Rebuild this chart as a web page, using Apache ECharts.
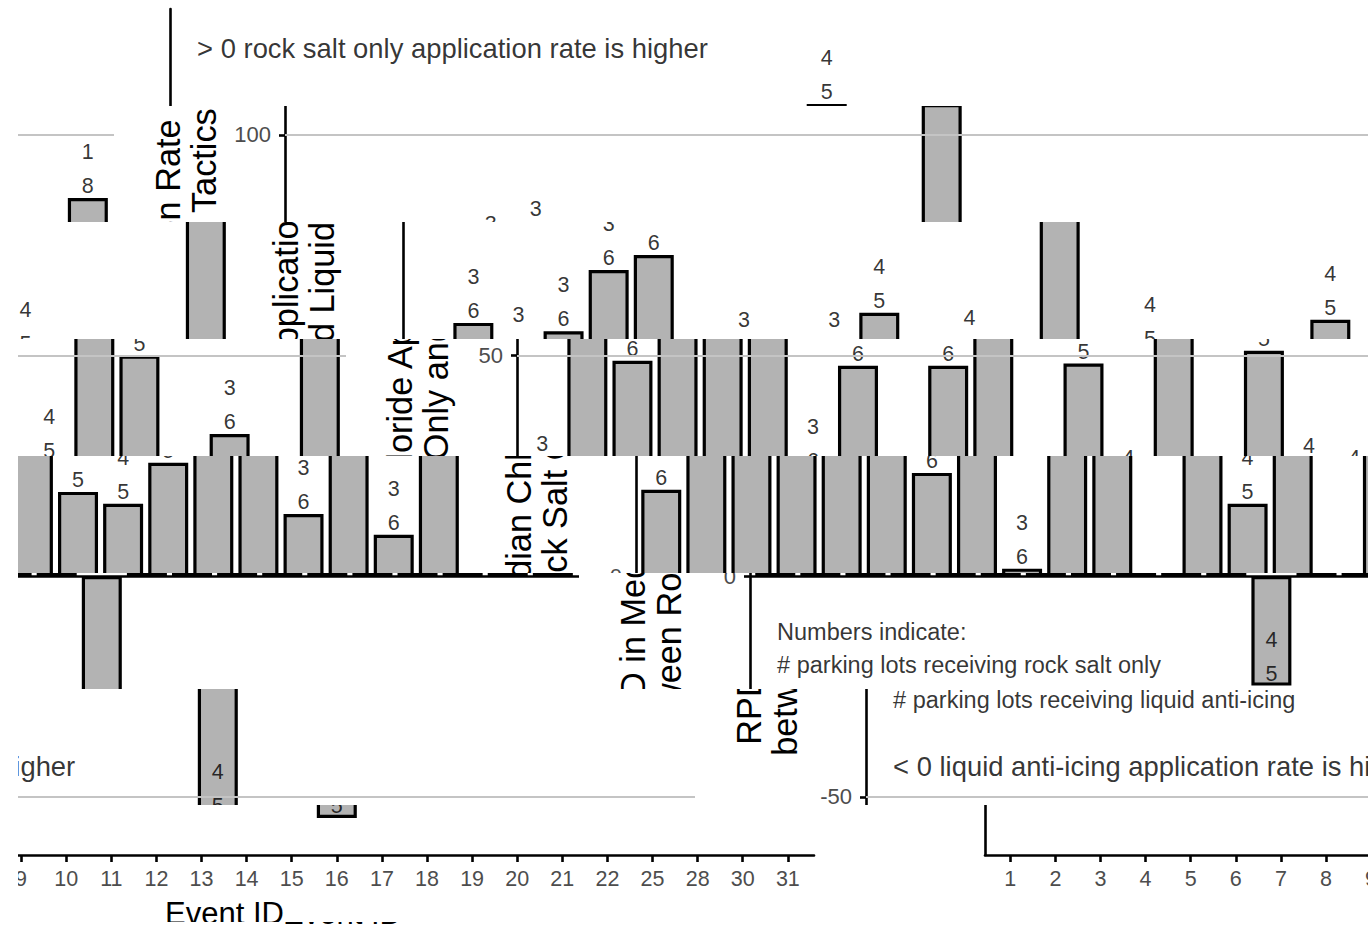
<!DOCTYPE html>
<html>
<head>
<meta charset="utf-8">
<script src="https://cdn.jsdelivr.net/npm/echarts@6/dist/echarts.min.js"></script>
<style>
html,body{margin:0;padding:0;background:#ffffff;width:1371px;height:937px;overflow:hidden;position:relative}
.win{position:absolute;overflow:hidden}
.inner{position:absolute;width:1350px;height:937px}
</style>
</head>
<body>
<script>
// ---------------- data ----------------
const events = ['1','2','3','4','5','6','7','8','9','10','11','12','13','14','15','16','17','18','19','20','21','22','25','28','30','31'];
const rpd = [19.6,57.4,48.8,55.5,69.4,72.8,23.4,47.7,1.7,47.7,59.7,-24.8,48.2,16.4,107.0,-54.8,51.1,19.1,16.4,25.7,58.1,50.0,14.1,32.2,9.4,85.7];
const rockSaltLots = [3,3,3,3,3,3,3,3,3,3,4,4,4,4,4,4,4,4,4,4,4,4,3,3,3,1];
const liquidLots   = [6,6,6,6,6,6,6,6,6,6,5,5,5,5,5,5,5,5,5,5,5,5,6,6,6,8];
const yTicks = [-50, 0, 50, 100];
const gridValues = [-50, 50, 100];
const yTitle = ['RPD in Median Chloride Application Rate', 'between Rock Salt Only and Liquid Tactics'];
const xTitle = 'Event ID';
const annX = [1.04, 1.04, 1.04, 1.04, 1.04];
const annY = [119.7, -12.6, -20.1, -28.0, -43.2];
const annText = [
  '> 0 rock salt only application rate is higher',
  'Numbers indicate:',
  '# parking lots receiving rock salt only',
  '# parking lots receiving liquid anti-icing',
  '< 0 liquid anti-icing application rate is higher'
];
const annSize = [27.4, 23.5, 23.5, 23.5, 27.4];

// ---------------- chart ----------------
const FONT = 'Liberation Sans, Arial, sans-serif';
const pos = events.map((e, i) => i + 1);
const pts = pos.map((p, i) => [p, rpd[i]]);

const option = {
  animation: false,
  backgroundColor: '#ffffff',
  textStyle: { fontFamily: FONT },
  grid: { left: 152, right: 19, top: 9, bottom: 82, containLabel: false },
  xAxis: {
    type: 'value', min: 0.44, max: 26.58,
    splitLine: { show: false },
    axisLine: { show: true, onZero: false, lineStyle: { color: '#000', width: 2.6 } },
    axisTick: { show: true, length: 7, customValues: pos, lineStyle: { color: '#000', width: 2.6 } },
    axisLabel: { customValues: pos, formatter: v => events[Math.round(v) - 1], color: '#4d4d4d', fontSize: 21.5, margin: 13, fontFamily: FONT },
    name: xTitle, nameLocation: 'middle', nameGap: 43,
    nameTextStyle: { fontSize: 31, color: '#000', fontFamily: FONT }
  },
  yAxis: {
    type: 'value', min: -63.2, max: 128.55,
    splitLine: { show: false },
    axisLine: { show: true, onZero: false, lineStyle: { color: '#000', width: 2.6 } },
    axisTick: { show: true, length: 6, customValues: yTicks, lineStyle: { color: '#000', width: 2.6 } },
    axisLabel: { customValues: yTicks, color: '#4d4d4d', fontSize: 22, margin: 14, fontFamily: FONT },
    name: yTitle.join('\n'), nameLocation: 'middle', nameRotate: 90, nameGap: 63,
    nameTextStyle: { fontSize: 34.3, lineHeight: 36, color: '#000', fontFamily: FONT }
  },
  series: [
    {
      type: 'line', data: pts, symbol: 'none', silent: true, z: 1,
      lineStyle: { width: 0, opacity: 0 },
      markLine: {
        silent: true, symbol: ['none', 'none'], label: { show: false },
        lineStyle: { color: '#c4c4c4', width: 1.8, type: 'solid' },
        emphasis: { disabled: true },
        data: gridValues.map(v => ({ yAxis: v }))
      }
    },
    {
      type: 'bar', data: pts, barWidth: 40, z: 2, silent: true,
      itemStyle: { color: '#b3b3b3', borderColor: '#000', borderWidth: 3.2 }
    },
    {
      type: 'line', data: pts, symbol: 'none', silent: true, z: 3,
      lineStyle: { width: 0, opacity: 0 },
      markLine: {
        silent: true, symbol: ['none', 'none'], label: { show: false },
        lineStyle: { color: '#000', width: 2.6, type: 'solid' },
        emphasis: { disabled: true },
        data: [{ yAxis: 0 }]
      }
    },
    {
      type: 'scatter', data: pts, symbolSize: 0, silent: true, z: 4,
      label: {
        show: true, position: 'top', distance: 0, offset: [0, 5],
        formatter: p => rockSaltLots[p.dataIndex] + '\n' + liquidLots[p.dataIndex],
        fontSize: 21.5, lineHeight: 34, color: '#000', fontFamily: FONT
      }
    },
    {
      type: 'scatter', symbolSize: 0, silent: true, z: 5,
      data: annX.map((x, i) => ({
        value: [x, annY[i]],
        label: { show: true, position: 'right', distance: 0, formatter: annText[i], fontSize: annSize[i], color: '#000', fontFamily: FONT }
      }))
    }
  ]
};

// ---------------- sheared band layout of the reference ----------------
const W = 1350, H = 937, X0 = 18;
const bandTop   = [0, 106, 222, 339, 456, 573, 689, 805, 922];
const bandShift = [0, 115, 233, 347, 466, 580, 696, 815, 933];

function addWin(left, top, width, height, srcX, srcY) {
  const win = document.createElement('div');
  win.className = 'win';
  win.style.left = left + 'px'; win.style.top = top + 'px';
  win.style.width = width + 'px'; win.style.height = height + 'px';
  const inner = document.createElement('div');
  inner.className = 'inner';
  inner.style.left = (-srcX) + 'px'; inner.style.top = (-srcY) + 'px';
  win.appendChild(inner);
  document.body.appendChild(win);
  const chart = echarts.init(inner, null, { renderer: 'svg', width: W, height: H });
  chart.setOption(option);
}

bandTop.forEach((top, k) => {
  const bottom = k + 1 < bandTop.length ? bandTop[k + 1] : H;
  const h = bottom - top;
  const s = bandShift[k];
  addWin(X0 + s, top, W - s, h, 0, top);
  if (s > 0) addWin(X0, top, s, h, W - s, top);
});
</script>
</body>
</html>
